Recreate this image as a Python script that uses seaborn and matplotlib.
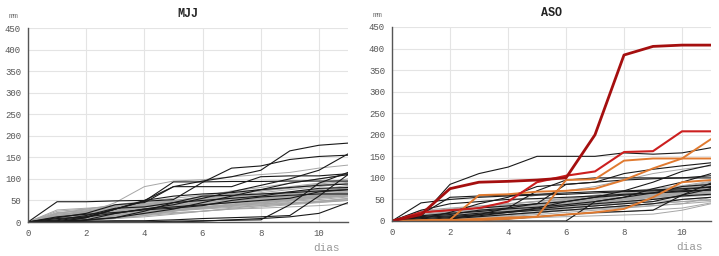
import pandas as pd
import seaborn as sns
import matplotlib.pyplot as plt

sns.set_theme(style="white")
plt.rcParams["font.family"] = ["Liberation Mono", "DejaVu Sans Mono"]

dias = list(range(12))

# MJJ: series grises y negras (mm acumulados por día)
mjj_gris = [
    [0, 10, 18, 25, 30, 35, 40, 45, 50, 55, 60, 65],
    [0, 5, 10, 20, 28, 35, 42, 48, 55, 60, 68, 75],
    [0, 15, 22, 28, 35, 40, 45, 52, 58, 65, 70, 78],
    [0, 2, 8, 15, 22, 30, 38, 45, 52, 58, 62, 70],
    [0, 20, 28, 35, 45, 50, 55, 60, 62, 68, 72, 80],
    [0, 8, 12, 18, 25, 30, 35, 40, 42, 48, 52, 58],
    [0, 0, 5, 12, 20, 28, 35, 42, 48, 52, 58, 62],
    [0, 12, 20, 30, 40, 45, 52, 58, 65, 70, 75, 85],
    [0, 25, 30, 38, 42, 48, 55, 62, 68, 75, 82, 90],
    [0, 5, 15, 25, 35, 45, 55, 65, 72, 80, 88, 95],
    [0, 10, 20, 45, 82, 95, 98, 105, 110, 115, 125, 132],
    [0, 18, 25, 32, 38, 42, 48, 55, 60, 65, 68, 72],
    [0, 3, 6, 10, 15, 20, 25, 30, 35, 40, 45, 50],
    [0, 8, 15, 20, 25, 28, 32, 38, 42, 45, 48, 55],
    [0, 15, 25, 35, 42, 50, 58, 65, 72, 78, 85, 92],
    [0, 5, 10, 15, 18, 22, 25, 30, 32, 35, 38, 42],
    [0, 20, 30, 40, 48, 55, 62, 70, 75, 82, 90, 100],
    [0, 10, 15, 22, 30, 35, 40, 48, 55, 60, 65, 70],
    [0, 2, 5, 8, 12, 18, 25, 32, 38, 42, 48, 52],
    [0, 12, 18, 24, 30, 38, 45, 50, 55, 58, 62, 68],
    [0, 28, 32, 36, 40, 45, 50, 55, 58, 62, 65, 68],
    [0, 6, 12, 18, 22, 26, 30, 34, 38, 42, 46, 50],
    [0, 15, 20, 25, 30, 35, 40, 45, 50, 55, 58, 60],
    [0, 0, 3, 8, 15, 25, 35, 40, 45, 50, 55, 60],
    [0, 10, 25, 32, 40, 48, 60, 72, 80, 90, 100, 110],
    [0, 5, 8, 12, 18, 25, 32, 38, 45, 52, 60, 65],
    [0, 18, 22, 28, 32, 38, 42, 48, 52, 58, 62, 66],
    [0, 8, 18, 28, 38, 45, 52, 58, 64, 70, 75, 82],
    [0, 4, 9, 14, 20, 26, 32, 38, 44, 50, 56, 62],
    [0, 22, 26, 30, 36, 42, 48, 54, 60, 66, 72, 78],
    [0, 12, 16, 20, 24, 28, 32, 36, 40, 44, 48, 54],
    [0, 6, 10, 16, 22, 28, 34, 40, 46, 52, 58, 64],
]
mjj_negro = [
    [0, 47, 47, 49, 50, 60, 65, 68, 75, 80, 85, 88],
    [0, 0, 10, 30, 50, 82, 95, 105, 120, 165, 178, 183],
    [0, 3, 12, 30, 48, 52, 92, 125, 130, 145, 152, 155],
    [0, 0, 5, 20, 30, 40, 55, 70, 85, 100, 120, 158],
    [0, 0, 10, 30, 48, 93, 93, 94, 94, 95, 95, 95],
    [0, 10, 20, 40, 45, 82, 82, 82, 105, 107, 107, 112],
    [0, 0, 0, 0, 0, 2, 3, 4, 5, 40, 90, 115],
    [0, 0, 2, 3, 3, 5, 8, 10, 12, 15, 60, 110],
    [0, 5, 15, 32, 35, 45, 50, 55, 60, 70, 78, 80],
    [0, 8, 12, 20, 30, 35, 40, 45, 50, 55, 70, 75],
    [0, 0, 5, 10, 20, 30, 45, 60, 75, 90, 100, 110],
    [0, 2, 4, 10, 25, 45, 60, 62, 65, 68, 72, 75],
    [0, 12, 18, 22, 28, 32, 38, 50, 58, 62, 65, 65],
    [0, 0, 0, 0, 0, 0, 2, 5, 8, 12, 20, 45],
]

# ASO
aso_gris = [
    [0, 5, 10, 15, 20, 25, 35, 45, 55, 60, 65, 70],
    [0, 10, 15, 20, 28, 35, 42, 50, 55, 62, 70, 75],
    [0, 2, 5, 10, 15, 20, 28, 35, 42, 50, 58, 65],
    [0, 15, 20, 25, 30, 35, 40, 45, 50, 55, 60, 65],
    [0, 0, 3, 8, 12, 18, 25, 30, 35, 40, 45, 50],
    [0, 8, 15, 22, 30, 38, 45, 52, 60, 68, 75, 82],
    [0, 20, 25, 30, 35, 40, 48, 55, 62, 70, 78, 85],
    [0, 5, 8, 12, 16, 20, 25, 30, 35, 40, 45, 48],
    [0, 12, 18, 25, 32, 40, 48, 55, 62, 70, 78, 88],
    [0, 3, 6, 10, 15, 22, 30, 38, 45, 52, 58, 62],
    [0, 25, 30, 35, 40, 45, 50, 58, 65, 72, 80, 90],
    [0, 10, 20, 30, 45, 60, 70, 80, 95, 110, 120, 128],
    [0, 6, 10, 15, 20, 25, 30, 35, 40, 45, 50, 55],
    [0, 15, 22, 30, 38, 45, 52, 60, 68, 75, 82, 92],
    [0, 2, 4, 6, 8, 10, 14, 18, 22, 26, 30, 42],
    [0, 8, 12, 18, 25, 30, 35, 42, 48, 55, 60, 68],
    [0, 18, 25, 30, 35, 38, 42, 48, 52, 58, 62, 70],
    [0, 4, 8, 12, 16, 20, 24, 28, 32, 36, 40, 45],
    [0, 12, 15, 20, 25, 30, 36, 42, 50, 58, 65, 72],
    [0, 0, 2, 5, 10, 15, 20, 25, 30, 35, 40, 55],
    [0, 10, 18, 25, 30, 35, 40, 45, 52, 60, 68, 78],
    [0, 5, 12, 20, 28, 36, 44, 52, 60, 68, 76, 84],
    [0, 22, 28, 34, 40, 46, 52, 58, 64, 70, 76, 82],
    [0, 7, 14, 20, 26, 32, 38, 44, 50, 56, 62, 68],
    [0, 0, 0, 2, 5, 8, 10, 12, 14, 16, 25, 40],
    [0, 14, 20, 26, 32, 38, 44, 50, 56, 62, 68, 74],
    [0, 3, 8, 14, 20, 26, 32, 38, 44, 50, 56, 60],
    [0, 9, 16, 22, 28, 34, 40, 46, 52, 58, 64, 70],
]
aso_negro = [
    [0, 42, 50, 55, 58, 60, 62, 65, 68, 70, 72, 80],
    [0, 10, 85, 110, 125, 150, 150, 150, 158, 155, 158, 170],
    [0, 5, 20, 40, 55, 80, 85, 90, 110, 120, 128, 135],
    [0, 0, 5, 15, 30, 70, 95, 100, 100, 100, 100, 100],
    [0, 0, 0, 0, 0, 0, 0, 45, 55, 75, 90, 110],
    [0, 15, 55, 58, 60, 62, 65, 68, 70, 72, 75, 78],
    [0, 20, 25, 30, 35, 40, 45, 55, 60, 65, 70, 72],
    [0, 5, 10, 15, 20, 25, 30, 35, 40, 45, 60, 88],
    [0, 10, 15, 25, 30, 40, 85, 90, 95, 98, 100, 105],
    [0, 0, 5, 10, 15, 20, 25, 30, 35, 40, 50, 55],
    [0, 12, 18, 22, 28, 32, 38, 45, 55, 65, 80, 85],
    [0, 2, 8, 12, 20, 30, 45, 55, 70, 90, 115, 130],
    [0, 8, 12, 18, 22, 28, 35, 40, 45, 50, 58, 62],
    [0, 0, 0, 2, 5, 10, 15, 20, 22, 25, 60, 75],
    [0, 25, 40, 45, 50, 52, 55, 58, 62, 65, 68, 72],
]
aso_naranja = [
    [0, 2, 3, 60, 62, 68, 70, 75, 95, 122, 145, 190],
    [0, 0, 2, 5, 8, 10, 95, 97, 140, 145, 145, 145],
    [0, 0, 0, 2, 5, 10, 15, 20, 28, 55, 90, 95],
]
aso_rojo = [
    [0, 20, 25, 30, 45, 90, 105, 115, 160, 162, 208, 208],
]
aso_rojo_osc = [
    [0, 15, 75, 90, 92, 95, 100, 200, 385, 405, 408, 408],
]


def tabla(grupos):
    filas = []
    for nombre, series in grupos:
        for i, s in enumerate(series):
            for d, v in zip(dias, s):
                filas.append({"grupo": nombre, "serie": f"{nombre}{i}", "dia": d, "mm": v})
    return pd.DataFrame(filas)


colores = {"gris": "#a6a6a6", "negro": "#1a1a1a", "naranja": "#e07a30",
           "rojo": "#cc1f1f", "rojo_osc": "#a50f0f"}
grosores = {"gris": 0.7, "negro": 0.8, "naranja": 1.4, "rojo": 1.5, "rojo_osc": 2.0}

fig = plt.figure(figsize=(7.19, 2.56), dpi=100)
ax1 = fig.add_axes([28 / 719, 34 / 256, 320 / 719, 194 / 256])
ax2 = fig.add_axes([392 / 719, 35 / 256, 319 / 719, 194 / 256])

paneles = [
    (ax1, "MJJ", [("gris", mjj_gris), ("negro", mjj_negro)]),
    (ax2, "ASO", [("gris", aso_gris), ("negro", aso_negro), ("naranja", aso_naranja),
                  ("rojo", aso_rojo), ("rojo_osc", aso_rojo_osc)]),
]

for ax, titulo, grupos in paneles:
    df = tabla(grupos)
    orden = [g for g, _ in grupos]
    sns.lineplot(data=df, x="dia", y="mm", units="serie", estimator=None,
                 hue="grupo", hue_order=orden, palette=colores,
                 size="grupo", size_order=orden, sizes=grosores,
                 legend=False, ax=ax)
    ax.set_xlim(0, 11)
    ax.set_ylim(0, 450)
    ax.set_xticks(range(0, 11, 2))
    ax.set_yticks(range(0, 451, 50))
    ax.grid(True, color="#e4e4e4", linewidth=0.8)
    ax.set_axisbelow(True)
    for lado in ["top", "right"]:
        ax.spines[lado].set_visible(False)
    for lado in ["left", "bottom"]:
        ax.spines[lado].set_color("#555555")
        ax.spines[lado].set_linewidth(1.0)
    ax.tick_params(length=0, labelsize=6.5, labelcolor="#555555", pad=5)
    ax.set_xlabel("")
    ax.set_ylabel("")
    ax.set_title(titulo, fontsize=8.5, fontweight="bold", color="#222222", pad=8)
    ax.text(-0.045, 1.04, "mm", transform=ax.transAxes, fontsize=6,
            color="#777777", ha="center", va="bottom")
    ax.text(0.975, -0.11, "dias", transform=ax.transAxes, fontsize=8,
            color="#999999", ha="right", va="top")

fig.savefig("out.png", dpi=100)
